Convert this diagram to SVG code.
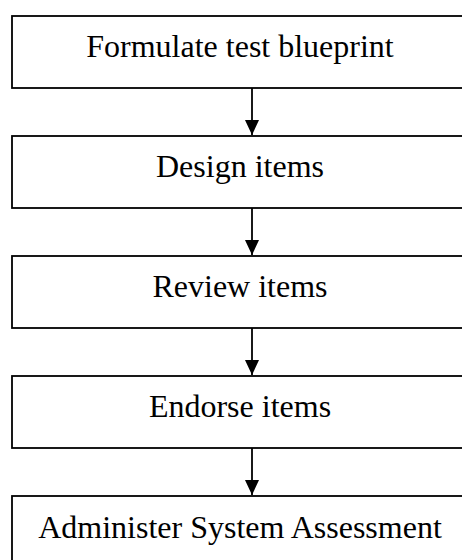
<svg xmlns="http://www.w3.org/2000/svg" width="462" height="560" viewBox="0 0 462 560">
<style>
.box{fill:#fff;stroke:#000;stroke-width:1.8}
.lbl{font-family:"Liberation Serif","Times New Roman",serif;font-size:32px;fill:#000;text-anchor:middle}
.conn{stroke:#000;stroke-width:1.8;fill:none}
</style>
<defs>
<marker id="ah" markerUnits="userSpaceOnUse" markerWidth="16" markerHeight="16" refX="15" refY="7" orient="auto">
<path d="M0,0 L15,7 L0,14 Z" fill="#000"/>
</marker>
</defs>
<rect width="462" height="560" fill="#fff"/>
<g id="n1"><rect class="box" x="12" y="16" width="500" height="72"/><text class="lbl" x="240" y="57">Formulate test blueprint</text></g>
<g id="n2"><rect class="box" x="12" y="136" width="500" height="72"/><text class="lbl" x="240" y="177">Design items</text></g>
<g id="n3"><rect class="box" x="12" y="256" width="500" height="72"/><text class="lbl" x="240" y="297">Review items</text></g>
<g id="n4"><rect class="box" x="12" y="376" width="500" height="72"/><text class="lbl" x="240" y="417">Endorse items</text></g>
<g id="n5"><rect class="box" x="12" y="496" width="500" height="72"/><text class="lbl" x="240" y="538">Administer System Assessment</text></g>
<g id="connectors">
<line class="conn" x1="252" y1="88" x2="252" y2="135" marker-end="url(#ah)"/>
<line class="conn" x1="252" y1="208" x2="252" y2="255" marker-end="url(#ah)"/>
<line class="conn" x1="252" y1="328" x2="252" y2="375" marker-end="url(#ah)"/>
<line class="conn" x1="252" y1="448" x2="252" y2="495" marker-end="url(#ah)"/>
</g>
</svg>
